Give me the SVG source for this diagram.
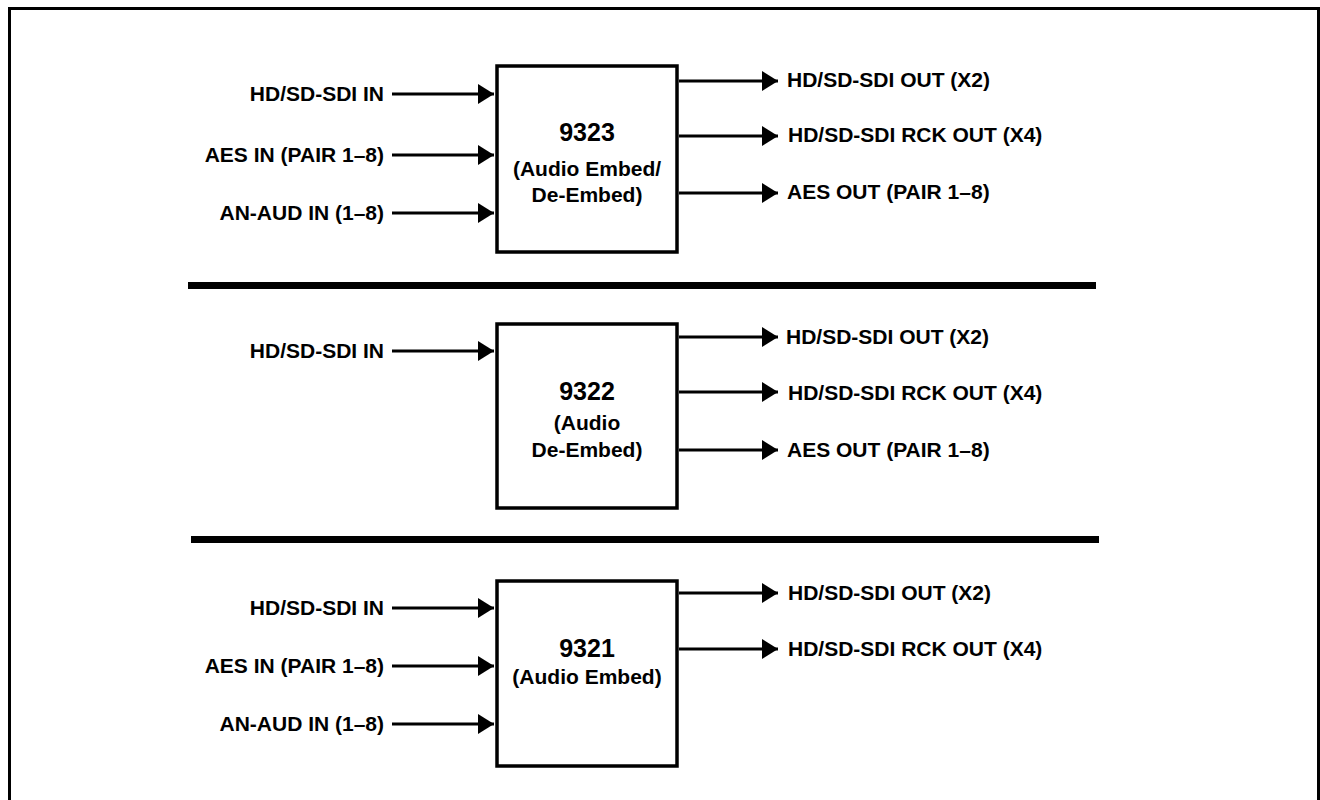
<svg xmlns="http://www.w3.org/2000/svg" width="1320" height="800" viewBox="0 0 1320 800">
<style>
.lbl{font-family:"Liberation Sans",Arial,sans-serif;font-weight:bold;font-size:21px;fill:#000}
.num{font-family:"Liberation Sans",Arial,sans-serif;font-weight:bold;font-size:25px;fill:#000}
.sub{font-family:"Liberation Sans",Arial,sans-serif;font-weight:bold;font-size:21px;fill:#000}
.box{fill:#fff;stroke:#000;stroke-width:3.5}
.wire{stroke:#000;stroke-width:3;fill:none;marker-end:url(#ah)}
</style>
<defs>
<marker id="ah" markerUnits="userSpaceOnUse" markerWidth="16" markerHeight="20" refX="16" refY="10" orient="auto">
<path d="M0,0 L16,10 L0,20 Z" fill="#000"/>
</marker>
</defs>
<rect x="9.5" y="8.5" width="1309" height="900" fill="#fff" stroke="#000" stroke-width="3"/>
<rect x="188" y="282" width="908" height="7" fill="#000"/>
<rect x="191" y="536" width="908" height="7" fill="#000"/>

<g id="connectors">
<line class="wire" x1="392" y1="94" x2="494" y2="94"/>
<line class="wire" x1="392" y1="155" x2="494" y2="155"/>
<line class="wire" x1="392" y1="213" x2="494" y2="213"/>
<line class="wire" x1="679" y1="81" x2="778" y2="81"/>
<line class="wire" x1="679" y1="136" x2="778" y2="136"/>
<line class="wire" x1="679" y1="193" x2="778" y2="193"/>

<line class="wire" x1="392" y1="351" x2="494" y2="351"/>
<line class="wire" x1="679" y1="337" x2="778" y2="337"/>
<line class="wire" x1="679" y1="392" x2="778" y2="392"/>
<line class="wire" x1="679" y1="450" x2="778" y2="450"/>

<line class="wire" x1="392" y1="608" x2="494" y2="608"/>
<line class="wire" x1="392" y1="666" x2="494" y2="666"/>
<line class="wire" x1="392" y1="724" x2="494" y2="724"/>
<line class="wire" x1="679" y1="593" x2="778" y2="593"/>
<line class="wire" x1="679" y1="649" x2="778" y2="649"/>
</g>

<g id="labels">
<text class="lbl" x="384" y="101" text-anchor="end">HD/SD-SDI IN</text>
<text class="lbl" x="384" y="162" text-anchor="end">AES IN (PAIR 1–8)</text>
<text class="lbl" x="384" y="220" text-anchor="end">AN-AUD IN (1–8)</text>
<text class="lbl" x="787" y="87">HD/SD-SDI OUT (X2)</text>
<text class="lbl" x="788" y="142">HD/SD-SDI RCK OUT (X4)</text>
<text class="lbl" x="787" y="199">AES OUT (PAIR 1–8)</text>

<text class="lbl" x="384" y="358" text-anchor="end">HD/SD-SDI IN</text>
<text class="lbl" x="786" y="344">HD/SD-SDI OUT (X2)</text>
<text class="lbl" x="788" y="400">HD/SD-SDI RCK OUT (X4)</text>
<text class="lbl" x="787" y="457">AES OUT (PAIR 1–8)</text>

<text class="lbl" x="384" y="615" text-anchor="end">HD/SD-SDI IN</text>
<text class="lbl" x="384" y="673" text-anchor="end">AES IN (PAIR 1–8)</text>
<text class="lbl" x="384" y="731" text-anchor="end">AN-AUD IN (1–8)</text>
<text class="lbl" x="788" y="600">HD/SD-SDI OUT (X2)</text>
<text class="lbl" x="788" y="656">HD/SD-SDI RCK OUT (X4)</text>
</g>

<g id="node-9323">
<rect class="box" x="497" y="66" width="180" height="186"/>
<text class="num" x="587" y="141" text-anchor="middle">9323</text>
<text class="sub" x="587" y="176" text-anchor="middle">(Audio Embed/</text>
<text class="sub" x="587" y="202" text-anchor="middle">De-Embed)</text>
</g>

<g id="node-9322">
<rect class="box" x="497" y="324" width="180" height="184"/>
<text class="num" x="587" y="400" text-anchor="middle">9322</text>
<text class="sub" x="587" y="430" text-anchor="middle">(Audio</text>
<text class="sub" x="587" y="457" text-anchor="middle">De-Embed)</text>
</g>

<g id="node-9321">
<rect class="box" x="497" y="581" width="180" height="185"/>
<text class="num" x="587" y="657" text-anchor="middle">9321</text>
<text class="sub" x="587" y="684" text-anchor="middle">(Audio Embed)</text>
</g>
</svg>
